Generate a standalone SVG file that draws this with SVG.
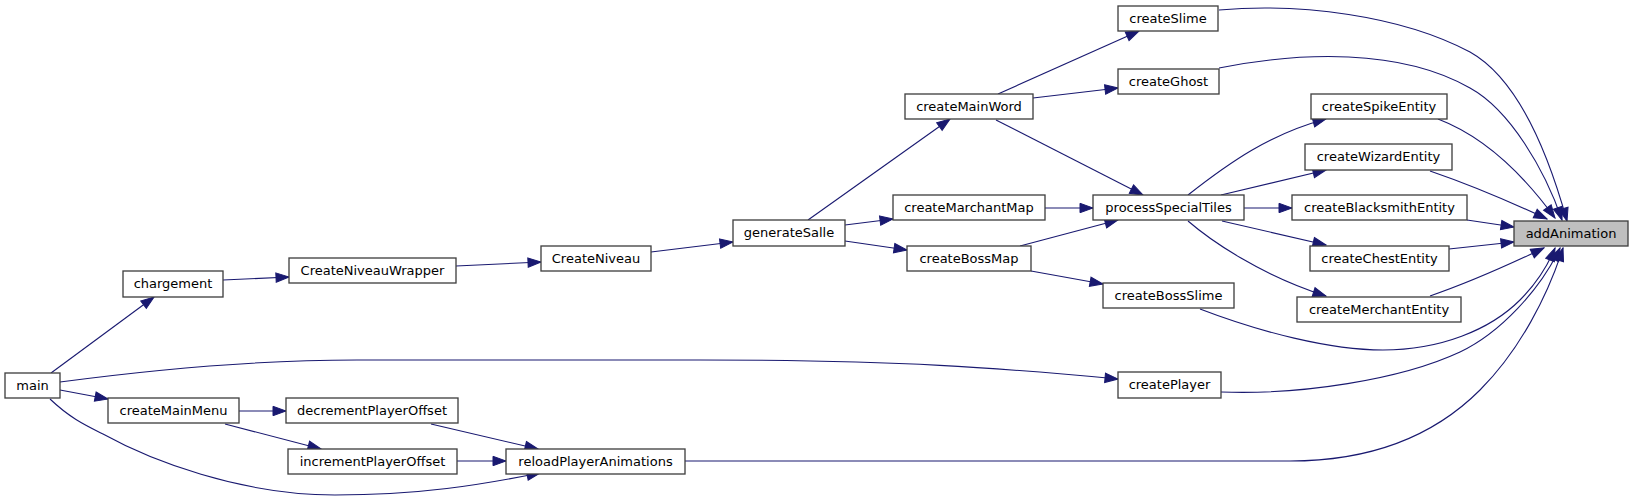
<svg xmlns="http://www.w3.org/2000/svg" width="1633" height="501" viewBox="0 0 1633 501">
<style>
.n rect{fill:#ffffff;stroke:#404040;stroke-width:1.33}
.n.root rect{fill:#bfbfbf}
.n text{font-family:"DejaVu Sans","Liberation Sans",sans-serif;font-size:13px;fill:#000;text-anchor:middle}
.e path{fill:none;stroke:#191970;stroke-width:1.1;marker-end:url(#ah)}
</style>
<defs>
<marker id="ah" markerUnits="userSpaceOnUse" markerWidth="16" markerHeight="12" viewBox="-1 -6 15 12" refX="13" refY="0" orient="auto">
<path d="M0,-4.7 L13,0 L0,4.7 z" fill="#191970" stroke="#191970" stroke-width="1"/>
</marker>
</defs>
<rect width="1633" height="501" fill="#ffffff"/>
<g id="edges" class="e">
<path d="M1219,10 C1300,3 1400,15 1470,52 C1520,80 1550,160 1567,221"/>
<path d="M1219,68 C1300,52 1400,48 1470,88 C1510,110 1545,170 1562,220"/>
<path d="M1438,119 C1480,135 1520,170 1555,218"/>
<path d="M1430,171 C1465,183 1500,197 1547,219"/>
<path d="M1467,220 L1514,227"/>
<path d="M1449,249 L1514,242"/>
<path d="M1430,296 C1465,284 1500,269 1544,248"/>
<path d="M1200,309 C1260,332 1330,350 1383,350 C1440,350 1490,330 1520,300 C1535,285 1548,265 1555,248"/>
<path d="M1221,392 C1300,395 1400,380 1460,352 C1500,333 1540,290 1560,248"/>
<path d="M685,461 L1290,461 C1380,461 1440,430 1480,390 C1520,350 1548,295 1563,248"/>
<path d="M998,94 L1139,31"/>
<path d="M1033,98 L1118,88"/>
<path d="M1188,195 C1230,162 1270,134 1326,119"/>
<path d="M1221,195 L1326,170"/>
<path d="M1244,208 L1292,208"/>
<path d="M1222,221 L1326,245"/>
<path d="M1188,221 C1210,240 1260,275 1326,296"/>
<path d="M996,120 L1143,195"/>
<path d="M1045,208 L1093,208"/>
<path d="M1020,246 L1118,220"/>
<path d="M1031,271 L1103,284"/>
<path d="M808,220 L950,119"/>
<path d="M845,225 L893,219"/>
<path d="M845,241 L907,250"/>
<path d="M651,252 L733,242"/>
<path d="M456,266 L541,262"/>
<path d="M223,280 L289,277"/>
<path d="M51,373 L154,297"/>
<path d="M60,382 C150,370 250,360 357,360 L700,360 C900,360 1000,368 1118,379"/>
<path d="M60,390 L108,399"/>
<path d="M50,399 C70,418 85,425 103,434 C150,460 240,495 335,495 C420,495 480,485 540,473"/>
<path d="M239,411 L286,411"/>
<path d="M225,424 L321,449"/>
<path d="M431,424 L538,449"/>
<path d="M457,461 L506,461"/>
</g>
<g id="node-addAnimation" class="n root"><rect x="1514" y="221" width="114" height="25"/><text x="1571" y="237.5">addAnimation</text></g>
<g id="node-createSlime" class="n"><rect x="1118" y="6" width="100" height="25"/><text x="1168" y="22.5">createSlime</text></g>
<g id="node-createGhost" class="n"><rect x="1118" y="69" width="101" height="25"/><text x="1168.5" y="85.5">createGhost</text></g>
<g id="node-createSpikeEntity" class="n"><rect x="1311" y="94" width="136" height="25"/><text x="1379" y="110.5">createSpikeEntity</text></g>
<g id="node-createWizardEntity" class="n"><rect x="1305" y="144" width="147" height="26"/><text x="1378.5" y="161">createWizardEntity</text></g>
<g id="node-createBlacksmithEntity" class="n"><rect x="1292" y="195" width="175" height="25"/><text x="1379.5" y="211.5">createBlacksmithEntity</text></g>
<g id="node-createChestEntity" class="n"><rect x="1310" y="246" width="139" height="25"/><text x="1379.5" y="262.5">createChestEntity</text></g>
<g id="node-createMerchantEntity" class="n"><rect x="1297" y="297" width="164" height="25"/><text x="1379" y="313.5">createMerchantEntity</text></g>
<g id="node-createBossSlime" class="n"><rect x="1103" y="283" width="131" height="25"/><text x="1168.5" y="299.5">createBossSlime</text></g>
<g id="node-createPlayer" class="n"><rect x="1118" y="372" width="103" height="26"/><text x="1169.5" y="388.5">createPlayer</text></g>
<g id="node-processSpecialTiles" class="n"><rect x="1093" y="195" width="151" height="25"/><text x="1168.5" y="211.5">processSpecialTiles</text></g>
<g id="node-createMainWord" class="n"><rect x="905" y="94" width="128" height="25"/><text x="969" y="110.5">createMainWord</text></g>
<g id="node-createMarchantMap" class="n"><rect x="893" y="195" width="152" height="25"/><text x="969" y="211.5">createMarchantMap</text></g>
<g id="node-createBossMap" class="n"><rect x="907" y="246" width="124" height="25"/><text x="969" y="262.5">createBossMap</text></g>
<g id="node-generateSalle" class="n"><rect x="733" y="220" width="112" height="26"/><text x="789" y="237">generateSalle</text></g>
<g id="node-CreateNiveau" class="n"><rect x="541" y="246" width="110" height="25"/><text x="596" y="262.5">CreateNiveau</text></g>
<g id="node-CreateNiveauWrapper" class="n"><rect x="289" y="258" width="167" height="25"/><text x="372.5" y="274.5">CreateNiveauWrapper</text></g>
<g id="node-chargement" class="n"><rect x="123" y="271" width="100" height="26"/><text x="173" y="288">chargement</text></g>
<g id="node-main" class="n"><rect x="5" y="373" width="55" height="25"/><text x="32.5" y="389.5">main</text></g>
<g id="node-createMainMenu" class="n"><rect x="108" y="398" width="131" height="25"/><text x="173.5" y="414.5">createMainMenu</text></g>
<g id="node-decrementPlayerOffset" class="n"><rect x="286" y="398" width="172" height="25"/><text x="372" y="414.5">decrementPlayerOffset</text></g>
<g id="node-incrementPlayerOffset" class="n"><rect x="288" y="449" width="169" height="25"/><text x="372.5" y="465.5">incrementPlayerOffset</text></g>
<g id="node-reloadPlayerAnimations" class="n"><rect x="506" y="449" width="179" height="25"/><text x="595.5" y="465.5">reloadPlayerAnimations</text></g>
</svg>
